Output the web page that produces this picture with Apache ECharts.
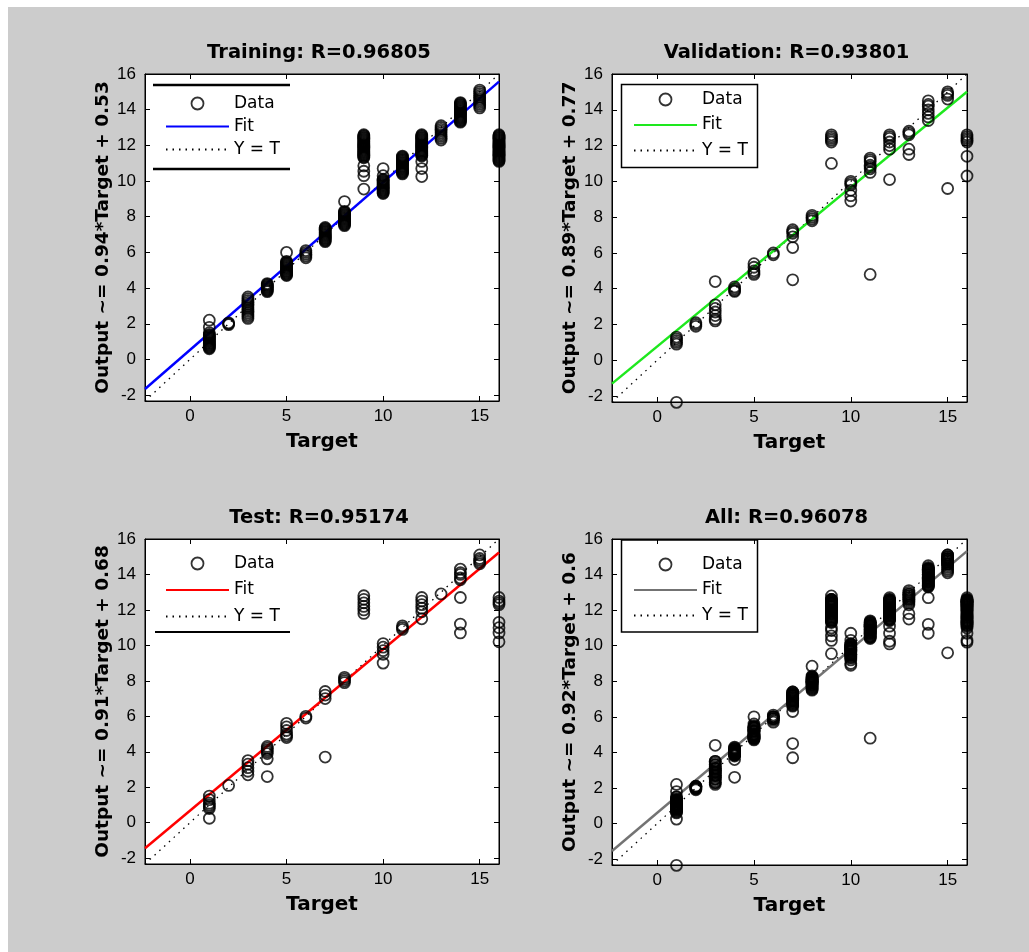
<!DOCTYPE html>
<html><head><meta charset="utf-8">
<script src="https://cdn.jsdelivr.net/npm/echarts@6/dist/echarts.min.js"></script>
<style>html,body{margin:0;padding:0;background:#fff}#c{width:1029px;height:952px}</style>
</head><body><div id="c"></div>
<script>
// ---- data ----
const axisMin = -2.33, axisMax = 16;
const xTickLabels = [0, 5, 10, 15];
const yTickLabels = [-2, 0, 2, 4, 6, 8, 10, 12, 14, 16];
const panelTitles = ['Training: R=0.96805', 'Validation: R=0.93801', 'Test: R=0.95174', 'All: R=0.96078'];
const fitSlopes = [0.94, 0.89, 0.91, 0.92];
const fitIntercepts = [0.53, 0.77, 0.68, 0.6];
const yAxisNames = ['Output ~= 0.94*Target + 0.53', 'Output ~= 0.89*Target + 0.77', 'Output ~= 0.91*Target + 0.68', 'Output ~= 0.92*Target + 0.6'];
const xAxisName = 'Target';
const legendNames = ['Data', 'Fit', 'Y = T'];

const trainingByTarget = [
  [1, [2.2, 1.8, 1.5, 1.4, 1.35, 1.3, 1.25, 1.2, 1.15, 1.1, 1.05, 1.0, 0.95, 0.9, 0.85, 0.8, 0.75, 0.7, 0.65, 0.6]],
  [2, [2.05, 2.0, 1.95]],
  [3, [3.5, 3.4, 3.3, 3.2, 3.1, 3.0, 2.9, 2.8, 2.7, 2.6, 2.5, 2.4, 2.3]],
  [4, [4.25, 4.2, 4.15, 4.1, 4.05, 4.0, 3.95, 3.9, 3.85, 3.8]],
  [5, [6.0, 5.5, 5.45, 5.4, 5.35, 5.3, 5.25, 5.2, 5.15, 5.1, 5.05, 5.0, 4.95, 4.9, 4.85, 4.8, 4.75, 4.7]],
  [6, [6.1, 6.0, 5.9, 5.8, 5.7]],
  [7, [7.4, 7.35, 7.3, 7.25, 7.2, 7.15, 7.1, 7.05, 7.0, 6.95, 6.9, 6.85, 6.8, 6.75, 6.7, 6.65, 6.6]],
  [8, [8.85, 8.3, 8.25, 8.2, 8.15, 8.1, 8.05, 8.0, 7.95, 7.9, 7.85, 7.8, 7.75, 7.7, 7.65, 7.6, 7.55, 7.5]],
  [9, [12.6, 12.55, 12.5, 12.45, 12.4, 12.35, 12.3, 12.25, 12.2, 12.15, 12.1, 12.05, 12.0, 11.95, 11.9, 11.85, 11.8, 11.75, 11.7, 11.65, 11.6, 11.55, 11.5, 11.45, 11.4, 11.35, 11.3, 10.85, 10.55, 10.3, 9.55]],
  [10, [10.7, 10.3, 10.1, 10.05, 10.0, 9.95, 9.9, 9.85, 9.8, 9.75, 9.7, 9.65, 9.6, 9.55, 9.5, 9.45, 9.4, 9.35, 9.3]],
  [11, [11.4, 11.35, 11.3, 11.25, 11.2, 11.15, 11.1, 11.05, 11.0, 10.95, 10.9, 10.85, 10.8, 10.75, 10.7, 10.65, 10.6, 10.55, 10.5, 10.45, 10.4]],
  [12, [12.6, 12.55, 12.5, 12.45, 12.4, 12.35, 12.3, 12.25, 12.2, 12.15, 12.1, 12.05, 12.0, 11.95, 11.9, 11.85, 11.8, 11.75, 11.7, 11.65, 11.6, 11.55, 11.5, 11.45, 11.4, 11.1, 10.7, 10.25]],
  [13, [13.1, 13.0, 12.9, 12.8, 12.7, 12.6, 12.5, 12.4, 12.3]],
  [14, [14.4, 14.35, 14.3, 14.25, 14.2, 14.15, 14.1, 14.05, 14.0, 13.95, 13.9, 13.85, 13.8, 13.75, 13.7, 13.65, 13.6, 13.55, 13.5, 13.45, 13.4, 13.35, 13.3]],
  [15, [15.1, 15.0, 14.9, 14.8, 14.7, 14.6, 14.5, 14.4, 14.3, 14.2, 14.1]],
  [16, [12.6, 12.55, 12.5, 12.45, 12.4, 12.35, 12.3, 12.25, 12.2, 12.15, 12.1, 12.05, 12.0, 11.95, 11.9, 11.85, 11.8, 11.75, 11.7, 11.65, 11.6, 11.55, 11.5, 11.45, 11.4, 11.35, 11.3, 11.25, 11.2, 11.15, 11.1]]
];
const validationByTarget = [
  [1, [1.3, 1.2, 1.1, 1.0, 0.9, -2.35]],
  [2, [2.1, 2.0, 1.9]],
  [3, [4.4, 3.1, 2.9, 2.7, 2.5, 2.3, 2.2]],
  [4, [4.1, 4.0, 3.9, 3.85]],
  [5, [5.4, 5.2, 5.0, 4.9, 4.8]],
  [6, [6.0, 5.9]],
  [7, [7.3, 7.2, 7.1, 6.9, 6.3, 4.5]],
  [8, [8.1, 8.0, 7.9, 7.8]],
  [9, [12.6, 12.5, 12.4, 12.3, 12.2, 11.0]],
  [10, [10.0, 9.9, 9.8, 9.5, 9.2, 8.9]],
  [11, [11.3, 11.2, 11.1, 10.9, 10.8, 10.7, 10.5, 4.8]],
  [12, [12.6, 12.5, 12.4, 12.2, 12.0, 11.8, 10.1]],
  [13, [12.8, 12.7, 12.6, 11.8, 11.5]],
  [14, [14.5, 14.3, 14.2, 14.0, 13.8, 13.6, 13.4]],
  [15, [15.0, 14.9, 14.8, 14.6, 9.6]],
  [16, [12.6, 12.5, 12.4, 12.3, 12.2, 11.4, 10.3]]
];
const testByTarget = [
  [1, [1.5, 1.3, 1.1, 1.0, 0.9, 0.8, 0.25]],
  [2, [2.1]],
  [3, [3.5, 3.3, 3.1, 2.9, 2.7]],
  [4, [4.3, 4.2, 4.1, 4.0, 3.9, 3.6, 2.6]],
  [5, [5.6, 5.4, 5.2, 5.0, 4.9, 4.8]],
  [6, [6.0, 5.9]],
  [7, [7.4, 7.2, 7.0, 3.7]],
  [8, [8.2, 8.1, 8.0, 7.9]],
  [9, [12.8, 12.6, 12.4, 12.2, 12.0, 11.8]],
  [10, [10.1, 9.9, 9.7, 9.5, 9.0]],
  [11, [11.1, 11.0, 10.9]],
  [12, [12.7, 12.5, 12.3, 12.1, 11.9, 11.5]],
  [13, [12.9]],
  [14, [14.3, 14.1, 14.0, 13.8, 13.7, 12.7, 11.2, 10.7]],
  [15, [15.1, 14.9, 14.8, 14.7, 14.6]],
  [16, [12.7, 12.5, 12.4, 12.3, 11.3, 11.0, 10.7, 10.2]]
];

// ---- build ----
function flatten(byTarget) {
  const out = [];
  byTarget.forEach(([t, outs]) => outs.forEach(o => out.push([t, o])));
  return out;
}
const trainingData = flatten(trainingByTarget);
const validationData = flatten(validationByTarget);
const testData = flatten(testByTarget);
const allData = trainingData.concat(validationData, testData);
const panelData = [trainingData, validationData, testData, allData];

const fitColors = ['#0000ff', '#1ee81e', '#ff0000', '#737373'];
const grids = [
  { left: 145, top: 74, width: 354, height: 327 },
  { left: 612, top: 74, width: 355, height: 328 },
  { left: 145, top: 539, width: 354, height: 325 },
  { left: 612, top: 539, width: 355, height: 326 }
];
const legendPos = [
  { left: 165, top: 95, gap: 6 },
  { left: 633, top: 91, gap: 8.5 },
  { left: 165, top: 555, gap: 9.5 },
  { left: 633, top: 556, gap: 8.5 }
];

const tickFont = { fontFamily: 'Liberation Sans', fontSize: 17, color: '#000' };
const boldFont = 'DejaVu Sans';
const noSymbol = { color: 'rgba(0,0,0,0)', borderColor: 'rgba(0,0,0,0)', borderWidth: 0, opacity: 0 };

const xAxes = [], yAxes = [], series = [], titles = [], legends = [];
grids.forEach((g, i) => {
  const common = {
    type: 'value', min: axisMin, max: axisMax, gridIndex: i,
    axisLine: { show: true, onZero: false, lineStyle: { color: '#000', width: 1 } },
    splitLine: { show: false }
  };
  xAxes.push(Object.assign({}, common, {
    position: 'bottom',
    name: xAxisName, nameLocation: 'middle', nameGap: 31,
    nameTextStyle: { fontFamily: boldFont, fontWeight: 'bold', fontSize: 20, color: '#000' },
    axisTick: { show: true, inside: true, length: 5, customValues: xTickLabels, lineStyle: { color: '#000' } },
    axisLabel: { show: true, margin: 7, customValues: xTickLabels, ...tickFont }
  }));
  yAxes.push(Object.assign({}, common, {
    position: 'left',
    name: yAxisNames[i], nameLocation: 'middle', nameGap: 32,
    nameTextStyle: { fontFamily: boldFont, fontWeight: 'bold', fontSize: 18.5, color: '#000' },
    axisTick: { show: true, inside: true, length: 5, customValues: yTickLabels, lineStyle: { color: '#000' } },
    axisLabel: { show: true, margin: 9, customValues: yTickLabels, ...tickFont }
  }));
  titles.push({
    text: panelTitles[i], left: g.left + g.width / 2 - 3, top: g.top - 31, textAlign: 'center', padding: 0,
    textStyle: { fontFamily: boldFont, fontWeight: 'bold', fontSize: 19.5, color: '#000' }
  });
  const lp = legendPos[i];
  legends.push({
    orient: 'vertical', left: lp.left, top: lp.top, padding: 0,
    itemWidth: 63, itemHeight: 12, itemGap: lp.gap, selectedMode: false,
    formatter: n => n.split('#')[0],
    textStyle: { fontFamily: 'DejaVu Sans', fontSize: 17, color: '#000' },
    data: [
      { name: legendNames[0] + '#' + i, icon: 'circle', itemStyle: { color: 'rgba(0,0,0,0)', borderColor: '#000', borderWidth: 1.8 } },
      { name: legendNames[1] + '#' + i, itemStyle: noSymbol },
      { name: legendNames[2] + '#' + i, itemStyle: noSymbol }
    ]
  });
  const a = fitSlopes[i], b = fitIntercepts[i];
  series.push({
    name: legendNames[2] + '#' + i, type: 'line', xAxisIndex: i, yAxisIndex: i,
    data: [[axisMin, axisMin], [axisMax, axisMax]], symbol: 'none', showSymbol: false, silent: true, z: 1,
    lineStyle: { color: '#000', width: 1.3, type: [1.5, 5] }, itemStyle: { color: '#000' }
  });
  series.push({
    name: legendNames[1] + '#' + i, type: 'line', xAxisIndex: i, yAxisIndex: i,
    data: [[axisMin, a * axisMin + b], [axisMax, a * axisMax + b]], symbol: 'none', showSymbol: false, silent: true, z: 2,
    lineStyle: { color: fitColors[i], width: 2.5 }, itemStyle: { color: fitColors[i] }
  });
  series.push({
    name: legendNames[0] + '#' + i, type: 'scatter', xAxisIndex: i, yAxisIndex: i,
    data: panelData[i], symbol: 'circle', symbolSize: 11, clip: false, silent: true, z: 3,
    itemStyle: { color: 'rgba(0,0,0,0)', borderColor: '#000', borderWidth: 1.8 }
  });
});
// mirrored axes (top / right) for the box ticks
grids.forEach((g, i) => {
  const common = {
    type: 'value', min: axisMin, max: axisMax, gridIndex: i,
    axisLine: { show: true, onZero: false, lineStyle: { color: '#000', width: 1 } },
    splitLine: { show: false }, axisLabel: { show: false }
  };
  xAxes.push(Object.assign({}, common, { position: 'top',
    axisTick: { show: true, inside: true, length: 5, customValues: xTickLabels, lineStyle: { color: '#000' } } }));
  yAxes.push(Object.assign({}, common, { position: 'right',
    axisTick: { show: true, inside: true, length: 5, customValues: yTickLabels, lineStyle: { color: '#000' } } }));
});

const graphics = [
  { type: 'rect', shape: { x: 0, y: 0, width: 1029, height: 7 }, style: { fill: '#fff' }, silent: true },
  { type: 'rect', shape: { x: 0, y: 0, width: 8, height: 952 }, style: { fill: '#fff' }, silent: true },
  // legend frames
  { type: 'line', shape: { x1: 153, y1: 85, x2: 290, y2: 85 }, style: { stroke: '#000', lineWidth: 2.5 }, z: 10, silent: true },
  { type: 'line', shape: { x1: 153, y1: 169, x2: 290, y2: 169 }, style: { stroke: '#000', lineWidth: 2.5 }, z: 10, silent: true },
  { type: 'rect', shape: { x: 621.5, y: 84.5, width: 136, height: 83 }, style: { fill: 'none', stroke: '#000', lineWidth: 1.5 }, z: 10, silent: true },
  { type: 'line', shape: { x1: 155, y1: 632, x2: 290, y2: 632 }, style: { stroke: '#000', lineWidth: 2 }, z: 10, silent: true },
  { type: 'rect', shape: { x: 621.5, y: 540, width: 136, height: 92 }, style: { fill: 'none', stroke: '#000', lineWidth: 1.5 }, z: 10, silent: true }
];

const chart = echarts.init(document.getElementById('c'), null, { renderer: 'canvas' });
chart.setOption({
  backgroundColor: '#cccccc',
  animation: false,
  title: titles,
  legend: legends,
  grid: grids.map(g => Object.assign({ show: true, backgroundColor: '#fff', borderColor: '#000', borderWidth: 1, containLabel: false, outerBoundsMode: 'none' }, g)),
  xAxis: xAxes,
  yAxis: yAxes,
  series: series,
  graphic: graphics
});
</script></body></html>
